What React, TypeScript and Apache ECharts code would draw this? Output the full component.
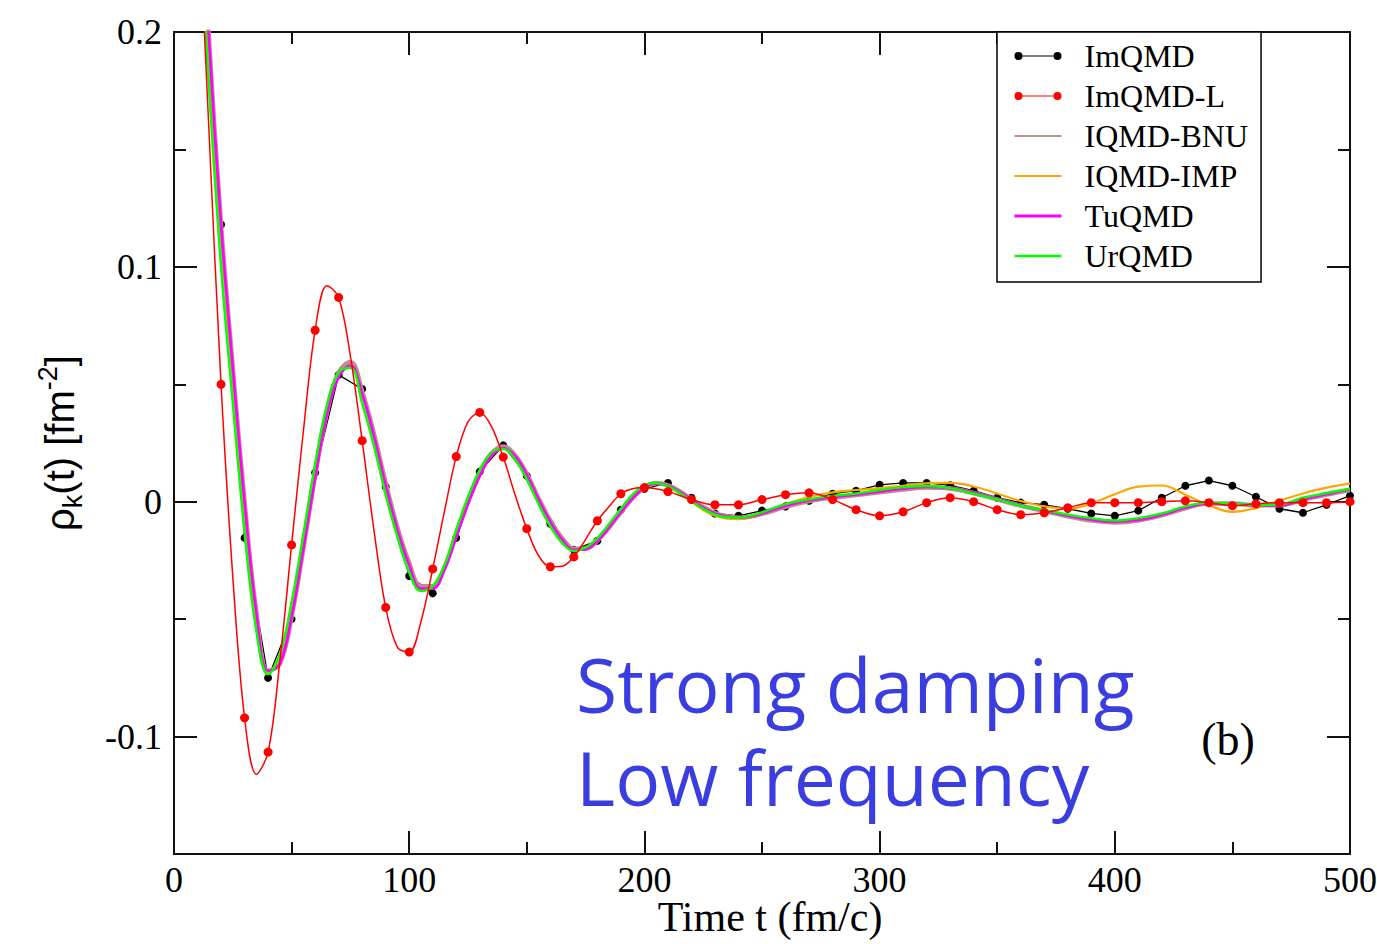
import React, { useEffect, useRef } from "react";
import * as echarts from "echarts";

// time grids (fm/c)
const tFine = [
  0, 5, 10, 15, 20, 25, 30, 35, 40, 45, 50, 55, 60, 65, 70, 75, 80, 85, 90, 95,
  100, 105, 110, 115, 120, 125, 130, 135, 140, 145, 150, 155, 160, 165, 170, 175,
  180, 185, 190, 195, 200, 205, 210, 215, 220, 225, 230, 235, 240, 245, 250,
  260, 270, 280, 290, 300, 310, 320, 330, 340, 350, 360, 370, 380, 390, 400,
  410, 420, 430, 440, 450, 460, 470, 480, 490, 500,
];
const tCoarse = [
  0, 10, 20, 30, 40, 50, 60, 70, 80, 90, 100, 110, 120, 130, 140, 150, 160, 170,
  180, 190, 200, 210, 220, 230, 240, 250, 260, 270, 280, 290, 300, 310, 320, 330,
  340, 350, 360, 370, 380, 390, 400, 410, 420, 430, 440, 450, 460, 470, 480, 490, 500,
];
const tRed = [
  0, 5, 10, 15, 20, 25, 30, 35, 40, 45, 50, 55, 60, 65, 70, 75, 80, 85, 90, 95,
  100, 105, 110, 115, 120, 125, 130, 135, 140, 145, 150, 155, 160, 165, 170, 175,
  180, 185, 190, 195, 200, 210, 220, 230, 240, 250, 260, 270, 280, 290, 300, 310,
  320, 330, 340, 350, 360, 370, 380, 390, 400, 410, 420, 430, 440, 450, 460, 470,
  480, 490, 500,
];

// series values rho_k(t) [fm^-2]
const imqmd = [
  0.44, 0.27, 0.118, -0.0154, -0.075, -0.05, 0.0124, 0.054, 0.048, 0.0064,
  -0.0316, -0.039, -0.0154, 0.0128, 0.024, 0.011, -0.0094, -0.0205, -0.0166, -0.0034,
  0.0055, 0.008, 0.0017, -0.005, -0.006, -0.0038, -0.002, 0.0004, 0.0034, 0.0047,
  0.0072, 0.008, 0.008, 0.007, 0.0047, 0.0017, -0.0004, -0.0013, -0.003, -0.005,
  -0.006, -0.0038, 0.0017, 0.0068, 0.009, 0.0068, 0.0021, -0.003, -0.0047, -0.0013,
  0.0026,
];
const imqmdL = [
  0.52, 0.39, 0.265, 0.155, 0.05, -0.032, -0.092, -0.116, -0.1066, -0.068,
  -0.0184, 0.03, 0.073, 0.092, 0.087, 0.062, 0.026, -0.012, -0.045, -0.062,
  -0.064, -0.051, -0.0286, -0.004, 0.0192, 0.034, 0.038, 0.032, 0.019, 0.003,
  -0.0115, -0.023, -0.0277, -0.0275, -0.0235, -0.016, -0.0081, -0.002, 0.0034, 0.0055,
  0.006,
  0.0043, 0.0009, -0.0013, -0.0013, 0.0009, 0.003, 0.0038, 0.0009, -0.0034, -0.006,
  -0.0043, -0.0004, 0.0017, 0, -0.0034, -0.0055, -0.0047, -0.0026, -0.0004, -0.0004,
  -0.0004, 0, 0.0004, -0.0004, -0.0017, -0.0009, -0.0004, -0.0004, -0.0004, 0,
];
const iqmdBnu = [
  0.47, 0.38, 0.285, 0.195, 0.118, 0.057, 0.0, -0.047, -0.072, -0.069,
  -0.049, -0.02, 0.011, 0.038, 0.055, 0.0595, 0.047, 0.029, 0.008, -0.011,
  -0.026, -0.036, -0.036, -0.028, -0.014, 0.0, 0.0118, 0.0205, 0.0235, 0.0198,
  0.0118, 0.0015, -0.008, -0.0155, -0.02, -0.02, -0.0165, -0.011, -0.0045, 0.0015,
  0.0062, 0.008, 0.007, 0.0045, 0.001, -0.0022, -0.0048, -0.0062, -0.0068, -0.0064,
  -0.0052,
  -0.0022, 0.0003, 0.0018, 0.0028, 0.004, 0.0052, 0.006, 0.0056, 0.0036, 0.001,
  -0.0017, -0.004, -0.0062, -0.008, -0.0088, -0.008, -0.0058, -0.0028, -0.0008, -0.0008,
  -0.0015, -0.0015, 0.0008, 0.003, 0.005,
];
const iqmdImp = [
  0.44, 0.35, 0.26, 0.176, 0.102, 0.044, -0.011, -0.053, -0.073, -0.065,
  -0.043, -0.014, 0.016, 0.041, 0.055, 0.057, 0.042, 0.024, 0.003, -0.015,
  -0.03, -0.038, -0.036, -0.027, -0.012, 0.002, 0.0135, 0.021, 0.0225, 0.018,
  0.0095, -0.001, -0.0105, -0.0175, -0.021, -0.0195, -0.0155, -0.0095, -0.003, 0.003,
  0.007, 0.008, 0.0065, 0.0035, 0.0, -0.0035, -0.006, -0.0072, -0.0074, -0.0066,
  -0.0048,
  -0.001, 0.002, 0.004, 0.005, 0.0058, 0.0068, 0.0078, 0.008, 0.0065, 0.0035,
  0.0003, -0.002, -0.003, -0.0008, 0.0032, 0.0064, 0.0069, 0.003, -0.0015, -0.0043,
  -0.0027, 0.0004, 0.0035, 0.006, 0.0077,
];
const tuqmd = [
  0.47, 0.38, 0.285, 0.195, 0.118, 0.057, 0.0, -0.047, -0.072, -0.069,
  -0.049, -0.02, 0.01, 0.037, 0.053, 0.058, 0.046, 0.028, 0.007, -0.012,
  -0.027, -0.037, -0.037, -0.029, -0.015, -0.001, 0.011, 0.0195, 0.0228, 0.0195,
  0.0115, 0.001, -0.0085, -0.016, -0.0205, -0.0203, -0.0168, -0.011, -0.0045, 0.0015,
  0.006, 0.0078, 0.0068, 0.0042, 0.0008, -0.0025, -0.005, -0.0063, -0.0068, -0.0063,
  -0.005,
  -0.0018, 0.0005, 0.002, 0.003, 0.0043, 0.0055, 0.0063, 0.0058, 0.0038, 0.0012,
  -0.0015, -0.0037, -0.006, -0.0077, -0.0085, -0.0078, -0.0056, -0.0026, -0.0007, -0.0008,
  -0.0016, -0.0016, 0.001, 0.0032, 0.0052,
];
const urqmd = [
  0.44, 0.35, 0.26, 0.175, 0.1, 0.042, -0.013, -0.055, -0.0735, -0.065,
  -0.043, -0.014, 0.016, 0.041, 0.055, 0.057, 0.042, 0.024, 0.003, -0.015,
  -0.03, -0.038, -0.036, -0.027, -0.012, 0.002, 0.0135, 0.021, 0.0225, 0.018,
  0.0095, -0.001, -0.0105, -0.0175, -0.021, -0.0195, -0.0155, -0.0095, -0.003, 0.003,
  0.007, 0.008, 0.0065, 0.0037, 0.0003, -0.003, -0.0055, -0.0066, -0.0068, -0.006,
  -0.0045,
  -0.001, 0.001, 0.0025, 0.0035, 0.005, 0.0062, 0.0067, 0.0058, 0.0034, 0.001,
  -0.0017, -0.0035, -0.0055, -0.007, -0.008, -0.007, -0.005, -0.002, -0.0004, -0.0008,
  -0.0014, -0.0012, 0.0017, 0.0037, 0.0055,
];

const yMajor = [-0.1, 0, 0.1, 0.2];
const yMinor = [-0.05, 0.05, 0.15];
const legendNames = ["ImQMD", "ImQMD-L", "IQMD-BNU", "IQMD-IMP", "TuQMD", "UrQMD"];
const legendLineWidths = [0, 0, 2.2, 2.2, 3, 2.4];

const SERIF = "'Liberation Serif', 'Times New Roman', serif";
const SANS = "'Liberation Sans', Arial, sans-serif";
const FRAME = "#111";

const zip = (t: number[], v: number[]) => t.map((x, i) => [x, v[i]]);

const dotLineIcon =
  "path://M4,3.4L43,3.4L43,4.6L4,4.6Z M0,4A4,4 0 1,1 8,4A4,4 0 1,1 0,4Z M39,4A4,4 0 1,1 47,4A4,4 0 1,1 39,4Z";

export default function App() {
  const ref = useRef<HTMLDivElement>(null);
  useEffect(() => {
    const chart = echarts.init(ref.current!, null, { renderer: "svg" });
    const xBase: any = {
      type: "value",
      min: 0,
      max: 500,
      interval: 100,
      axisLine: { show: true, onZero: false, lineStyle: { color: FRAME, width: 2 } },
      axisTick: { show: true, inside: true, length: 23, lineStyle: { color: FRAME, width: 2 } },
      minorTick: { show: true, splitNumber: 2, length: 12, lineStyle: { color: FRAME, width: 2 } },
      splitLine: { show: false },
      minorSplitLine: { show: false },
    };
    const yBase = (pos: string, major: boolean, label: boolean): any => ({
      type: "value",
      min: -0.15,
      max: 0.2,
      position: pos,
      axisLine: { show: major, onZero: false, lineStyle: { color: FRAME, width: 2 } },
      axisTick: {
        show: true,
        inside: true,
        length: major ? 23 : 12,
        customValues: major ? yMajor : yMinor,
        lineStyle: { color: FRAME, width: 2 },
      },
      axisLabel: label
        ? {
            show: true,
            customValues: yMajor,
            fontSize: 36,
            fontFamily: SERIF,
            color: "#000",
            margin: 12,
            formatter: (v: number) => (Math.abs(v) < 1e-9 ? "0" : String(+v.toFixed(2))),
          }
        : { show: false },
      splitLine: { show: false },
    });

    const option: any = {
      animation: false,
      backgroundColor: "#fff",
      grid: {
        left: 174,
        right: 27,
        top: 32,
        bottom: 90,
        containLabel: false,
        outerBoundsMode: "none",
      },
      xAxis: [
        {
          ...xBase,
          position: "bottom",
          axisLabel: { fontSize: 36, lineHeight: 36, fontFamily: SERIF, color: "#000", margin: 8 },
          name: "Time t (fm/c)",
          nameLocation: "middle",
          nameGap: 42,
          nameMoveOverlap: false,
          nameTextStyle: {
            fontSize: 42,
            lineHeight: 42,
            fontFamily: SERIF,
            color: "#000",
            padding: [0, 0, 0, 16],
          },
        },
        { ...xBase, position: "top", axisLabel: { show: false } },
      ],
      yAxis: [
        {
          ...yBase("left", true, true),
          name: "ρ{sub|k}(t) [fm{sup|-2}]",
          nameLocation: "middle",
          nameRotate: 90,
          nameGap: 88,
          nameMoveOverlap: false,
          nameTextStyle: {
            fontSize: 40,
            fontFamily: SANS,
            color: "#000",
            lineHeight: 52,
            rich: {
              sub: { fontSize: 27, fontFamily: SANS, color: "#000", lineHeight: 26, verticalAlign: "bottom" },
              sup: { fontSize: 27, fontFamily: SANS, color: "#000", lineHeight: 26, verticalAlign: "top" },
            },
          },
        },
        yBase("left", false, false),
        yBase("right", true, false),
        yBase("right", false, false),
      ],
      legend: {
        orient: "vertical",
        left: 997,
        top: 32,
        padding: [8, 13, 10, 16],
        itemGap: 8,
        itemWidth: 47,
        itemHeight: 8,
        backgroundColor: "#fff",
        borderColor: "#000",
        borderWidth: 1.5,
        borderRadius: 0,
        selectedMode: false,
        itemStyle: { borderWidth: 0 },
        textStyle: {
          fontSize: 32,
          fontFamily: SERIF,
          color: "#000",
          lineHeight: 32,
          padding: [0, 0, 0, 18],
        },
        data: legendNames.map((n, i) =>
          i < 2
            ? { name: n, icon: dotLineIcon }
            : { name: n, itemStyle: { opacity: 0 }, lineStyle: { width: legendLineWidths[i] } }
        ),
      },
      series: [
        {
          name: "ImQMD",
          type: "line",
          data: zip(tCoarse, imqmd),
          symbol: "circle",
          symbolSize: 8,
          color: "#000",
          lineStyle: { color: "#000", width: 1.3 },
          itemStyle: { color: "#000" },
          z: 2,
        },
        {
          name: "IQMD-BNU",
          type: "line",
          data: zip(tFine, iqmdBnu),
          smooth: 0.4,
          symbol: "none",
          color: "#bc8f8f",
          lineStyle: { color: "#bc8f8f", width: 4.5 },
          z: 3,
        },
        {
          name: "IQMD-IMP",
          type: "line",
          data: zip(tFine, iqmdImp),
          smooth: 0.4,
          symbol: "none",
          color: "#ffa500",
          lineStyle: { color: "#ffa500", width: 2.2 },
          z: 3,
        },
        {
          name: "TuQMD",
          type: "line",
          data: zip(tFine, tuqmd),
          smooth: 0.4,
          symbol: "none",
          color: "#ff00ff",
          lineStyle: { color: "#ff00ff", width: 2.6 },
          z: 4,
        },
        {
          name: "UrQMD",
          type: "line",
          data: zip(tFine, urqmd),
          smooth: 0.4,
          symbol: "none",
          color: "#00ff00",
          lineStyle: { color: "#00ff00", width: 2.4 },
          z: 5,
        },
        {
          name: "ImQMD-L",
          type: "line",
          data: zip(tRed, imqmdL),
          smooth: 0.35,
          symbol: "circle",
          symbolSize: (v: number[]) => (v[0] % 10 === 0 ? 9 : 0),
          color: "#ff0000",
          lineStyle: { color: "#ff0000", width: 1.5 },
          itemStyle: { color: "#ff0000" },
          z: 6,
        },
      ],
      graphic: [
        {
          type: "text",
          x: 576,
          y: 684,
          z: 10,
          style: {
            text: "Strong damping",
            fill: "#3a3ee0",
            fontSize: 75,
            fontFamily: "'Open Sans', 'Noto Sans', sans-serif",
            align: "left",
            verticalAlign: "middle",
          },
        },
        {
          type: "text",
          x: 576,
          y: 777,
          z: 10,
          style: {
            text: "Low frequency",
            fill: "#3a3ee0",
            fontSize: 75,
            fontFamily: "'Open Sans', 'Noto Sans', sans-serif",
            align: "left",
            verticalAlign: "middle",
          },
        },
        {
          type: "text",
          x: 1228,
          y: 739,
          z: 10,
          style: {
            text: "(b)",
            fill: "#000",
            fontSize: 46,
            fontFamily: SERIF,
            align: "center",
            verticalAlign: "middle",
          },
        },
      ],
    };
    chart.setOption(option);
    return () => chart.dispose();
  }, []);
  return (
    <div
      ref={ref}
      style={{ position: "absolute", left: 0, top: 0, width: 1377, height: 944, background: "#fff" }}
    />
  );
}
